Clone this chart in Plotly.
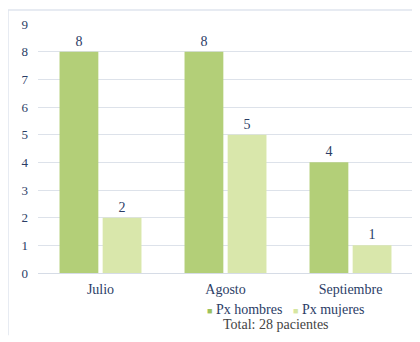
import plotly.graph_objects as go

months = ["Julio", "Agosto", "Septiembre"]
hombres = [8, 8, 4]
mujeres = [2, 5, 1]
series_names = ["Px hombres", "Px mujeres"]
legend_colors = ["#9dc15c", "#d6e6a1"]
y_ticks = [0, 1, 2, 3, 4, 5, 6, 7, 8, 9]
total_text = "Total: 28 pacientes"

FONT = "Liberation Serif, DejaVu Serif, serif"
NAVY = "#2b3d66"

fig = go.Figure()
fig.add_trace(go.Bar(
    x=months, y=hombres, name=series_names[0],
    marker=dict(color="#b3cf78", line=dict(width=0)),
    text=hombres, textposition="outside",
    textfont=dict(family=FONT, size=14, color=NAVY), cliponaxis=False,
))
fig.add_trace(go.Bar(
    x=months, y=mujeres, name=series_names[1],
    marker=dict(color="#d9e7ab", line=dict(width=0)),
    text=mujeres, textposition="outside",
    textfont=dict(family=FONT, size=14, color=NAVY), cliponaxis=False,
))

fig.update_layout(
    width=412, height=334,
    margin=dict(l=30, r=7, t=16, b=69),
    paper_bgcolor="white", plot_bgcolor="white",
    barmode="group", bargap=0.31, bargroupgap=0.1,
    font=dict(family=FONT, color=NAVY, size=13),
    showlegend=False,
)
fig.update_yaxes(
    range=[0, 9], tickvals=y_ticks, showgrid=True, gridcolor="#dde2ea", gridwidth=1,
    zeroline=False, showline=False, ticks="", ticklabelstandoff=9,
    tickfont=dict(family=FONT, size=13, color=NAVY),
)
fig.update_xaxes(
    showline=True, linecolor="#d6dce6", linewidth=1, ticks="",
    tickfont=dict(family=FONT, size=14, color=NAVY), ticklabelstandoff=3,
)
legend_text = (
    f'<span style="color:{legend_colors[0]};font-size:9px">■</span> {series_names[0]}'
    f'&nbsp;&nbsp;&nbsp;<span style="color:{legend_colors[1]};font-size:9px">■</span> {series_names[1]}'
)
fig.add_annotation(text=legend_text, xref="paper", yref="paper", x=0.66, y=-0.145,
                   xanchor="center", yanchor="middle", showarrow=False,
                   font=dict(family=FONT, size=14, color=NAVY))
fig.add_annotation(text=total_text, xref="paper", yref="paper", x=0.635, y=-0.205,
                   xanchor="center", yanchor="middle", showarrow=False,
                   font=dict(family=FONT, size=14, color="#444444"))
# chart frame
fig.add_shape(type="line", xref="paper", yref="paper", x0=-0.08, x1=-0.08, y0=-0.25, y1=1.056,
              line=dict(color="#dfe5ee", width=1.5))
fig.add_shape(type="line", xref="paper", yref="paper", x0=-0.08, x1=1.02, y0=1.056, y1=1.056,
              line=dict(color="#dfe5ee", width=1.5))

fig.write_html("out.html")
